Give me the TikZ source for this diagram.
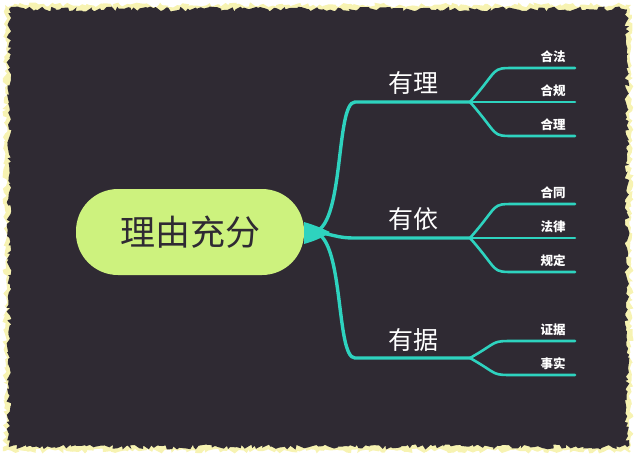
\documentclass[tikz,border=0pt]{standalone}
\usepackage{fontspec}
\newfontfamily\cjk{Noto Sans CJK SC}
\usetikzlibrary{decorations.pathmorphing}
\definecolor{bgdark}{HTML}{2F2A33}
\definecolor{edge}{HTML}{F7F3B2}
\definecolor{teal}{HTML}{2ED3BF}
\definecolor{lime}{HTML}{CDF27E}
\tikzset{
  branch/.style={draw=teal,line width=3.4pt,line cap=round},
  twig/.style={draw=teal,line width=2.6pt,line cap=round},
  main/.style={text=white,font=\cjk\fontsize{25}{27}\selectfont,inner sep=0pt},
  leaf/.style={text=white,font=\cjk\bfseries\fontsize{12.5}{14}\selectfont,inner sep=0pt}
}
\begin{document}
\begin{tikzpicture}[x=1pt,y=-1pt]
  \useasboundingbox (0,0) rectangle (636,456);
  \pgfmathsetseed{7}
  % torn paper background
  \fill[edge,decorate,decoration={random steps,segment length=3pt,amplitude=2.5pt}]
    (5,5) rectangle (631,451);
  \fill[bgdark,decorate,decoration={random steps,segment length=3pt,amplitude=2.5pt}]
    (9,9) rectangle (627,447);
  % root
  \node[fill=lime,rounded corners=42pt,minimum width=228pt,minimum height=86pt,
        font=\cjk\fontsize{35}{37}\selectfont,text=bgdark] (root) at (190,232) {理由充分};
  \coordinate (r) at (312,232);
  % main branches
  \coordinate (a0) at (355,102); \coordinate (a1) at (470,102);
  \coordinate (b0) at (355,238); \coordinate (b1) at (470,238);
  \coordinate (c0) at (355,358); \coordinate (c1) at (470,358);
  \fill[teal] (304,222) .. controls (318,226) and (325,230) .. (330,232)
    .. controls (325,236) and (318,240) .. (304,244) -- cycle;
  \draw[branch] (r) .. controls (345,232) and (335,102) .. (a0) -- (a1);
  \draw[branch] (r) .. controls (335,234) and (335,238) .. (b0) -- (b1);
  \draw[branch] (r) .. controls (345,232) and (335,358) .. (c0) -- (c1);
  \node[main] (nA) at (413,83) {有理};
  \node[main] (nB) at (413,219) {有依};
  \node[main] (nC) at (413,340) {有据};
  % leaves
  \foreach \p/\y/\t in {a1/68/合法,a1/102/合规,a1/136/合理,
                        b1/204/合同,b1/238/法律,b1/272/规定,
                        c1/341/证据,c1/375/事实}{
    \draw[twig] (\p) .. controls (500,\y-0.0) and (490,\y) .. (515,\y) -- (575,\y);
    \node[leaf] at (553,\y-11) {\t};
  }
\end{tikzpicture}
\end{document}
